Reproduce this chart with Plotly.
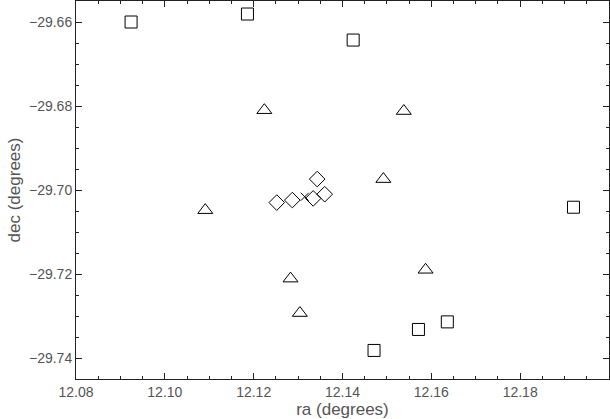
import plotly.graph_objects as go

# Positions (degrees)
square_ra = [12.0924, 12.1186, 12.1424, 12.1920, 12.1636, 12.1571, 12.1471]
square_dec = [-29.6600, -29.6581, -29.6643, -29.7041, -29.7314, -29.7332, -29.7382]

triangle_ra = [12.1224, 12.1538, 12.1492, 12.1091, 12.1283, 12.1304, 12.1587]
triangle_dec = [-29.6810, -29.6812, -29.6974, -29.7048, -29.7211, -29.7293, -29.7190]

diamond_ra = [12.1252, 12.1287, 12.1334, 12.1360, 12.1343]
diamond_dec = [-29.7030, -29.7024, -29.7020, -29.7010, -29.6974]

center_ra = [12.1315]
center_dec = [-29.7016]

line = dict(color='black', width=1)

fig = go.Figure(data=[
    go.Scatter(x=square_ra, y=square_dec, mode='markers',
               marker=dict(symbol='square-open', size=12, color='black', line=line)),
    go.Scatter(x=triangle_ra, y=triangle_dec, mode='markers',
               marker=dict(symbol='triangle-up-open', size=13, color='black', line=line)),
    go.Scatter(x=diamond_ra, y=diamond_dec, mode='markers',
               marker=dict(symbol='diamond-open', size=12, color='black', line=line)),
    go.Scatter(x=center_ra, y=center_dec, mode='markers',
               marker=dict(symbol='x-thin-open', size=8, color='black', line=line)),
])

fig.update_layout(
    width=610, height=419,
    margin=dict(l=76, r=1, t=1, b=40),
    paper_bgcolor='white', plot_bgcolor='white',
    showlegend=False,
    font=dict(family='Liberation Sans, Arial, sans-serif', size=14, color='#555'),
)

axis_style = dict(
    showgrid=False, zeroline=False,
    showline=True, linecolor='#222', linewidth=1, mirror='ticks',
    ticks='inside', ticklen=6, tickcolor='#222', tickwidth=1,
    minor=dict(ticks='inside', ticklen=3, dtick=0.005, tickcolor='#222', showgrid=False),
    dtick=0.02, tickformat='.2f',
)

fig.update_xaxes(range=[12.08, 12.20], tick0=12.08,
                 title=dict(text='ra (degrees)', standoff=3), **axis_style)
fig.update_yaxes(range=[-29.745, -29.655], tick0=-29.74,
                 title=dict(text='dec (degrees)', standoff=4), **axis_style)

# drop the default body margin so the figure sits at the window's corner
fig.write_html("out.html", config={'displayModeBar': False},
               post_script="document.body.style.margin='0';")
